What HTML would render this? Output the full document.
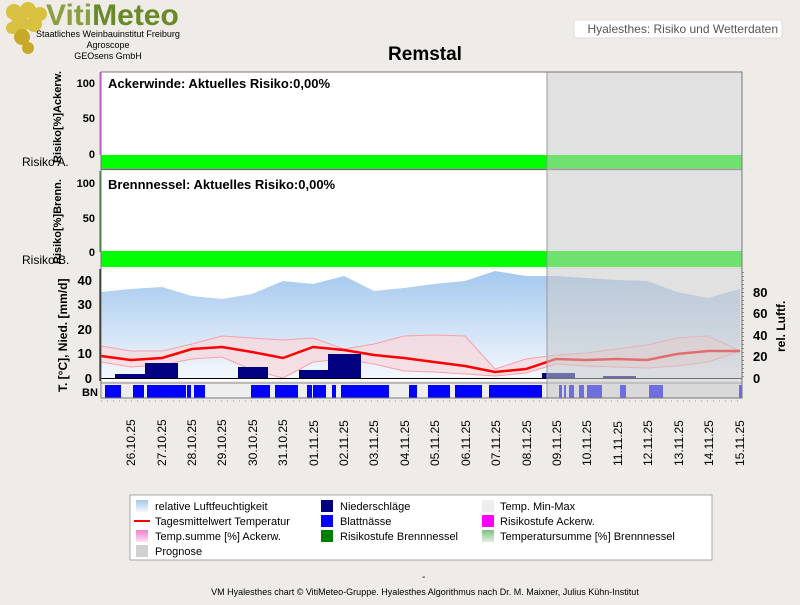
<!DOCTYPE html><html><head><meta charset="utf-8"><style>
body{margin:0;width:800px;height:600px;background:#efebe7;font-family:"Liberation Sans",sans-serif;overflow:hidden}
svg text{font-family:"Liberation Sans",sans-serif}
</style></head><body>
<svg width="800" height="600" viewBox="0 0 800 600">
<defs>
<linearGradient id="hg" x1="0" y1="0" x2="0" y2="1"><stop offset="0" stop-color="#a4c8ee"/><stop offset="1" stop-color="#f4f8fd"/></linearGradient>
<linearGradient id="pg" x1="0" y1="0" x2="0" y2="1"><stop offset="0" stop-color="#f080d0"/><stop offset="1" stop-color="#fce0f4"/></linearGradient>
<linearGradient id="gg" x1="0" y1="0" x2="0" y2="1"><stop offset="0" stop-color="#80c080"/><stop offset="1" stop-color="#e0f0e0"/></linearGradient>
</defs>
<rect width="800" height="600" fill="#efebe7"/>
<!-- logo -->
<g fill="#d8c040">
<circle cx="14" cy="12" r="8"/><circle cx="28" cy="10" r="8"/><circle cx="40" cy="14" r="7"/><circle cx="20" cy="24" r="9"/><circle cx="34" cy="24" r="8"/><circle cx="22" cy="37" r="8" fill="#c8a828"/><circle cx="28" cy="48" r="6" fill="#c8a828"/><circle cx="12" cy="28" r="6"/>
</g>
<text x="46" y="25" font-size="30" font-weight="bold" fill="#8aa040">Viti<tspan fill="#6a8a2a">Meteo</tspan></text>
<text x="108" y="37" font-size="9" text-anchor="middle">Staatliches Weinbauinstitut Freiburg</text>
<text x="108" y="48" font-size="9" text-anchor="middle">Agroscope</text>
<text x="108" y="59" font-size="9" text-anchor="middle">GEOsens GmbH</text>
<rect x="574" y="20" width="208" height="18" fill="#fff" stroke="#ddd" rx="2"/>
<text x="778" y="33" font-size="12" text-anchor="end" fill="#555">Hyalesthes: Risiko und Wetterdaten</text>
<text x="425" y="60" font-size="19" font-weight="bold" text-anchor="middle">Remstal</text>
<!-- panel 1 -->
<rect x="101" y="72" width="641" height="98" fill="#fff"/>
<rect x="101" y="155" width="641" height="14" fill="#00ff00"/>
<line x1="101" y1="169.5" x2="742" y2="169.5" stroke="#c030c0"/>
<line x1="100.5" y1="72" x2="100.5" y2="155" stroke="#ff40ff" stroke-width="2"/>
<text x="108" y="88" font-size="13" font-weight="bold">Ackerwinde: Aktuelles Risiko:0,00%</text>
<g font-size="11" font-weight="bold" text-anchor="end">
<text x="95" y="87">100</text><text x="95" y="122">50</text><text x="95" y="158">0</text>
<text x="95" y="187">100</text><text x="95" y="222">50</text><text x="95" y="256">0</text>
</g>
<text x="22" y="166" font-size="12">Risiko A.</text>
<!-- panel 2 -->
<rect x="101" y="171" width="641" height="97" fill="#fff"/>
<rect x="101" y="251" width="641" height="16" fill="#00ff00"/>
<line x1="100.5" y1="171" x2="100.5" y2="252" stroke="#208020" stroke-width="2"/>
<text x="108" y="189" font-size="13" font-weight="bold">Brennnessel: Aktuelles Risiko:0,00%</text>
<text x="22" y="264" font-size="12">Risiko B.</text>
<text transform="translate(61,163) rotate(-90)" font-size="11" font-weight="bold">Risiko[%]Ackerw.</text>
<text transform="translate(61,264) rotate(-90)" font-size="11" font-weight="bold">Risiko[%]Brenn.</text>
<!-- panel 3 -->
<rect x="101" y="269" width="641" height="112" fill="#fff"/>
<polygon fill="url(#hg)" points="101,378 101,292 131,289 162,287 192,296 222,299 252,294 283,281 313,284 344,276 374,291 404,288 434,284 465,281 495,271 526,276 556,276 586,278 617,280 647,281 677,292 708,298 740,289 740,378"/>
<polygon fill="#f8d8dc" fill-opacity="0.75" stroke="#f8a0a8" stroke-width="1" points="101,346 131,351 162,351 192,344 222,336 252,338 283,340 313,338 344,349 374,344 404,336 434,335 465,336 495,369 526,359 556,355 586,353 617,349 647,345 677,338 708,336 740,351 708,362 677,366 647,368 617,367 586,366 556,364 526,373 495,376 465,374 434,372 404,371 374,364 344,359 313,362 283,378 252,370 222,357 192,359 162,365 131,367 101,362"/>
<polyline fill="none" stroke="#ff0000" stroke-width="2.5" points="101,356 131,360 162,358 192,349 222,347 252,352 283,358 313,347 344,350 374,355 404,358 434,362 465,366 495,372 526,369 556,359 586,360 617,359 647,360 677,354 708,351 740,351"/>
<g fill="#000080">
<rect x="115" y="374" width="30" height="4"/><rect x="145" y="363" width="33" height="15"/><rect x="238" y="367" width="30" height="11"/><rect x="299" y="370" width="29" height="8"/><rect x="328" y="354" width="33" height="24"/><rect x="542" y="373" width="33" height="5"/><rect x="603" y="376" width="33" height="2"/>
</g>
<line x1="101" y1="378.5" x2="742" y2="378.5" stroke="#000"/>
<line x1="100.5" y1="269" x2="100.5" y2="381" stroke="#000" stroke-width="2"/>
<g font-size="13" font-weight="bold" text-anchor="end">
<text x="92" y="383">0</text><text x="92" y="358">10</text><text x="92" y="334">20</text><text x="92" y="309">30</text><text x="92" y="285">40</text>
</g>
<g font-size="13" font-weight="bold">
<text x="753" y="383">0</text><text x="753" y="361">20</text><text x="753" y="340">40</text><text x="753" y="318">60</text><text x="753" y="297">80</text>
</g>
<line x1="743" y1="272" x2="743" y2="378" stroke="#555" stroke-dasharray="1,3"/>
<text transform="translate(785,352) rotate(-90)" font-size="12" font-weight="bold">rel. Luftf.</text>
<text transform="translate(67,392) rotate(-90)" font-size="12" font-weight="bold">T. [°C], Nied. [mm/d]</text>
<!-- BN -->
<rect x="101" y="383" width="641" height="15" fill="#eee" stroke="#888"/>
<g fill="#0000ff">
<rect x="105" y="385" width="16" height="13"/><rect x="133" y="385" width="11" height="13"/><rect x="147" y="385" width="39" height="13"/><rect x="187" y="385" width="4" height="13"/><rect x="194" y="385" width="11" height="13"/><rect x="251" y="385" width="19" height="13"/><rect x="275" y="385" width="23" height="13"/><rect x="307" y="385" width="5" height="13"/><rect x="313" y="385" width="13" height="13"/><rect x="332" y="385" width="4" height="13"/><rect x="341" y="385" width="48" height="13"/><rect x="409" y="385" width="8" height="13"/><rect x="428" y="385" width="22" height="13"/><rect x="455" y="385" width="27" height="13"/><rect x="489" y="385" width="53" height="13"/>
<rect x="559" y="385" width="3" height="13"/><rect x="564" y="385" width="2" height="13"/><rect x="569" y="385" width="5" height="13"/><rect x="579" y="385" width="5" height="13"/><rect x="587" y="385" width="15" height="13"/><rect x="620" y="385" width="6" height="13"/><rect x="649" y="385" width="14" height="13"/><rect x="739" y="385" width="3" height="13"/>
</g>
<text x="82" y="396" font-size="11" font-weight="bold">BN</text>
<!-- forecast overlay -->
<rect x="547" y="72" width="195" height="326" fill="#c8c8c8" fill-opacity="0.55" stroke="#999"/>
<rect x="101" y="72" width="641" height="326" fill="none" stroke="#777"/>
<line x1="101" y1="401" x2="742" y2="401" stroke="#999" stroke-dasharray="1,5"/>
<!-- x labels -->
<g font-size="12">
<text transform="translate(135,466) rotate(-90)">26.10.25</text><text transform="translate(166,466) rotate(-90)">27.10.25</text><text transform="translate(196,466) rotate(-90)">28.10.25</text><text transform="translate(226,466) rotate(-90)">29.10.25</text><text transform="translate(257,466) rotate(-90)">30.10.25</text><text transform="translate(287,466) rotate(-90)">31.10.25</text><text transform="translate(318,466) rotate(-90)">01.11.25</text><text transform="translate(348,466) rotate(-90)">02.11.25</text><text transform="translate(378,466) rotate(-90)">03.11.25</text><text transform="translate(409,466) rotate(-90)">04.11.25</text><text transform="translate(439,466) rotate(-90)">05.11.25</text><text transform="translate(470,466) rotate(-90)">06.11.25</text><text transform="translate(500,466) rotate(-90)">07.11.25</text><text transform="translate(531,466) rotate(-90)">08.11.25</text><text transform="translate(561,466) rotate(-90)">09.11.25</text><text transform="translate(591,466) rotate(-90)">10.11.25</text><text transform="translate(622,466) rotate(-90)">11.11.25</text><text transform="translate(652,466) rotate(-90)">12.11.25</text><text transform="translate(683,466) rotate(-90)">13.11.25</text><text transform="translate(713,466) rotate(-90)">14.11.25</text><text transform="translate(744,466) rotate(-90)">15.11.25</text>
</g>
<!-- legend -->
<rect x="130" y="495" width="582" height="65" fill="#fff" stroke="#aaa"/>
<g font-size="11">
<rect x="136" y="500" width="12" height="12" fill="url(#hg)"/><text x="155" y="510">relative Luftfeuchtigkeit</text>
<line x1="134" y1="521" x2="150" y2="521" stroke="#f00" stroke-width="2"/><text x="155" y="525">Tagesmittelwert Temperatur</text>
<rect x="136" y="530" width="12" height="12" fill="url(#pg)"/><text x="155" y="540">Temp.summe [%] Ackerw.</text>
<rect x="136" y="545" width="12" height="12" fill="#d0d0d0"/><text x="155" y="555">Prognose</text>
<rect x="321" y="500" width="12" height="12" fill="#000080"/><text x="340" y="510">Niederschläge</text>
<rect x="321" y="515" width="12" height="12" fill="#0000ff"/><text x="340" y="525">Blattnässe</text>
<rect x="321" y="530" width="12" height="12" fill="#008000"/><text x="340" y="540">Risikostufe Brennnessel</text>
<rect x="482" y="500" width="12" height="12" fill="#eeeeee"/><text x="500" y="510">Temp. Min-Max</text>
<rect x="482" y="515" width="12" height="12" fill="#ff00ff"/><text x="500" y="525">Risikostufe Ackerw.</text>
<rect x="482" y="530" width="12" height="12" fill="url(#gg)"/><text x="500" y="540">Temperatursumme [%] Brennnessel</text>
</g>
<text x="422" y="580" font-size="10">-</text>
<text x="425" y="595" font-size="9" text-anchor="middle">VM Hyalesthes chart © VitiMeteo-Gruppe. Hyalesthes Algorithmus nach Dr. M. Maixner, Julius Kühn-Institut</text>
</svg>
</body></html>
